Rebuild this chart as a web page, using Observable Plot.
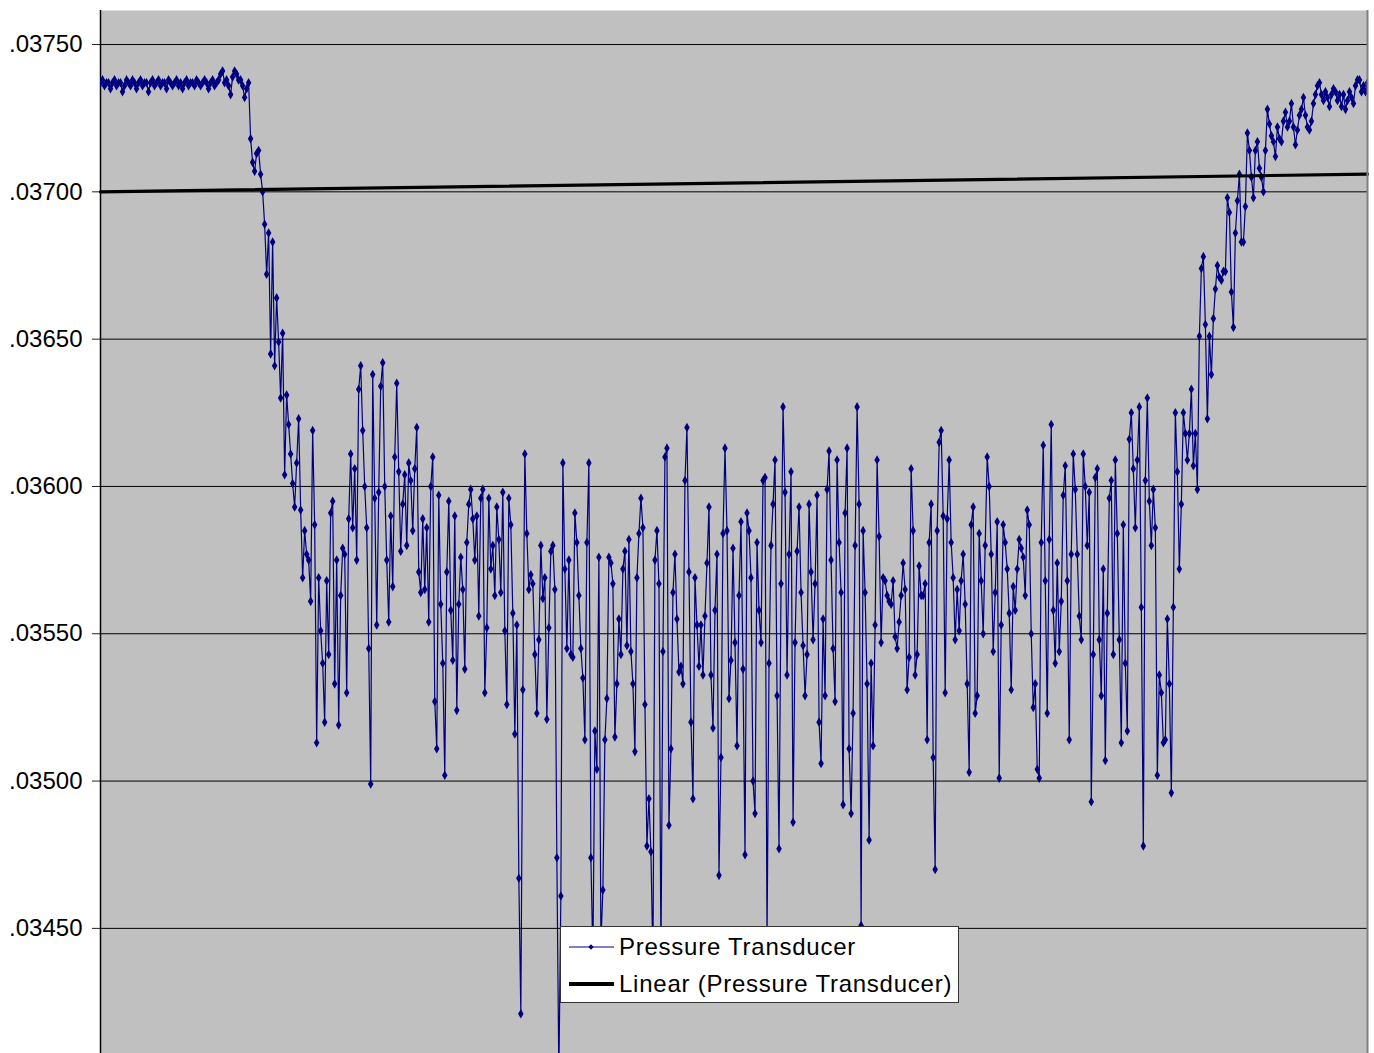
<!DOCTYPE html>
<html>
<head>
<meta charset="utf-8">
<script src="https://cdn.jsdelivr.net/npm/d3@7"></script>
<script src="https://cdn.jsdelivr.net/npm/@observablehq/plot@0.6"></script>
<style>
  html, body { margin: 0; padding: 0; background: #fff; }
  #wrap { position: relative; width: 1374px; height: 1053px; font-family: 'Liberation Sans', Arial, sans-serif; }
  #legend { position: absolute; left: 560px; top: 926px; width: 399px; height: 77px; box-sizing: border-box;
            background: #fff; border: 1px solid #333; }
  #legend .lbl { position: absolute; left: 58px; font-size: 24px; letter-spacing: 0.75px; color: #000; white-space: nowrap; line-height: 30px; }
  #legend svg { position: absolute; left: 8px; }
</style>
</head>
<body>
<div id="wrap"><div id="chart"></div>
  <div id="legend"></div>
</div>
<script>
// Series name and trend label
const seriesName = "Pressure Transducer";
const trendName = "Linear (Pressure Transducer)";

// Pressure readings, in units of 0.00001 (e.g. 3737 -> .03737), one per sample
const readings = [
3737,3738,3736,3737,3737,3735,3737,3738,3736,3737,
3737,3734,3736,3738,3737,3736,3738,3737,3735,3737,
3738,3736,3737,3737,3734,3737,3738,3736,3737,3738,
3736,3737,3737,3735,3738,3737,3736,3737,3738,3736,
3737,3735,3737,3738,3736,3737,3737,3736,3738,3737,
3736,3737,3738,3737,3735,3737,3738,3736,3737,3738,
3740,3741,3737,3738,3736,3733,3739,3741,3740,3738,
3738,3736,3732,3735,3737,3718,3710,3707,3713,3714,
3706,3700,3689,3672,3686,3645,3683,3641,3664,3649,
3630,3652,3604,3631,3621,3611,3601,3593,3608,3623,
3592,3569,3585,3577,3575,3561,3619,3587,3513,3569,
3551,3540,3520,3568,3543,3591,3595,3533,3575,3519,
3563,3579,3577,3530,3589,3611,3586,3606,3575,3633,
3641,3619,3600,3586,3545,3499,3638,3596,3553,3598,
3634,3642,3600,3575,3554,3590,3566,3610,3635,3605,
3578,3594,3604,3580,3608,3602,3585,3606,3620,3571,
3564,3589,3565,3586,3554,3600,3610,3527,3511,3597,
3560,3540,3502,3571,3595,3558,3541,3590,3524,3560,
3576,3565,3538,3581,3594,3599,3589,3575,3590,3556,
3596,3599,3530,3552,3596,3572,3580,3563,3593,3582,
3564,3598,3551,3526,3596,3587,3557,3516,3553,3467,
3421,3531,3611,3584,3565,3570,3567,3543,3523,3548,
3580,3562,3569,3521,3552,3578,3580,3565,3474,3400,
3461,3608,3572,3545,3575,3543,3542,3591,3581,3563,
3545,3535,3514,3581,3608,3474,3440,3517,3504,3576,
3445,3463,3514,3528,3576,3574,3567,3515,3533,3555,
3543,3572,3578,3546,3582,3544,3533,3510,3569,3584,
3596,3586,3526,3478,3494,3476,3438,3575,3585,3567,
3440,3544,3610,3613,3485,3511,3564,3577,3555,3537,
3539,3533,3602,3620,3571,3520,3494,3569,3553,3539,
3553,3536,3556,3574,3593,3536,3518,3558,3577,3468,
3508,3584,3613,3585,3528,3541,3579,3547,3512,3563,
3588,3538,3475,3591,3585,3569,3500,3489,3581,3558,
3547,3602,3603,3445,3540,3580,3594,3609,3529,3477,
3567,3627,3598,3536,3577,3605,3486,3547,3578,3593,
3564,3546,3529,3543,3594,3571,3548,3567,3597,3520,
3506,3555,3529,3599,3612,3575,3545,3527,3609,3581,
3564,3492,3591,3613,3511,3489,3523,3580,3627,3594,
3451,3585,3564,3533,3480,3540,3512,3553,3609,3583,
3547,3569,3568,3563,3561,3560,3568,3549,3545,3554,
3563,3574,3565,3531,3542,3606,3585,3536,3543,3573,
3563,3563,3567,3514,3581,3594,3508,3470,3585,3615,
3619,3590,3530,3589,3609,3581,3569,3548,3565,3551,
3568,3577,3560,3533,3503,3587,3593,3523,3529,3584,
3568,3550,3580,3610,3600,3577,3544,3564,3588,3501,
3553,3587,3581,3572,3557,3531,3566,3558,3572,3582,
3579,3576,3563,3592,3587,3550,3525,3533,3504,3501,
3581,3614,3568,3523,3582,3621,3558,3540,3574,3544,
3561,3597,3607,3568,3514,3577,3611,3599,3577,3556,
3548,3611,3600,3580,3598,3493,3543,3603,3606,3548,
3529,3572,3507,3557,3596,3602,3543,3609,3584,3548,
3513,3587,3540,3517,3616,3625,3606,3586,3609,3627,
3559,3478,3602,3630,3595,3580,3599,3586,3502,3536,
3530,3513,3514,3555,3533,3496,3559,3625,3605,3572,
3594,3625,3618,3609,3618,3633,3607,3618,3599,3651,
3674,3678,3655,3623,3651,3638,3657,3667,3675,3671,
3670,3673,3673,3698,3693,3666,3654,3686,3697,3706,
3683,3683,3695,3720,3714,3705,3698,3714,3717,3708,
3705,3700,3714,3728,3723,3719,3717,3712,3722,3718,
3717,3724,3727,3722,3724,3730,3722,3716,3721,3726,
3728,3732,3726,3722,3721,3724,3730,3733,3736,3737,
3733,3731,3734,3732,3729,3733,3735,3734,3731,3733,
3729,3733,3728,3731,3734,3732,3730,3736,3738,3738,
3734,3736,3734,3737
];

// Linear trend line values at first and last sample (same units)
const trendEnds = [3700, 3706];

// Y-axis tick values (same units)
const yTickValues = [3450, 3500, 3550, 3600, 3650, 3700, 3750];

const scaleUnit = 1e5;
const last = readings.length - 1;
const data = readings.map((r, i) => ({i, v: r / scaleUnit}));
const trend = [{i: 0, v: trendEnds[0] / scaleUnit}, {i: last, v: trendEnds[1] / scaleUnit}];
const yTicks = yTickValues.map(t => t / scaleUnit);
const fmt = d => d3.format(".5f")(d).replace(/^0/, "");

const chart = Plot.plot({
  width: 1374,
  height: 1053,
  marginLeft: 100,
  marginRight: 7,
  marginTop: 10,
  marginBottom: 0,
  style: {fontFamily: "'Liberation Sans', Arial, sans-serif", color: "#000", background: "transparent"},
  x: {domain: [0, last], axis: null, label: null},
  y: {domain: [0.0340753, 0.0376155], axis: null, label: null},
  marks: [
    Plot.frame({fill: "#c0c0c0", stroke: null}),
    Plot.gridY(yTicks, {stroke: "#000", strokeOpacity: 1, strokeWidth: 1}),
    Plot.axisY(yTicks, {tickSize: 8, tickPadding: 10, tickFormat: fmt, fontSize: 24, stroke: "#222", label: null}),
    Plot.ruleX([0], {stroke: "#000", strokeWidth: 1.5}),
    Plot.line(data, {x: "i", y: "v", stroke: "#000080", strokeWidth: 1.2, clip: true}),
    Plot.dot(data, {x: "i", y: "v", r: 2.9, symbol: "diamond", fill: "#000080", stroke: null, clip: true}),
    Plot.line(trend, {x: "i", y: "v", stroke: "#000", strokeWidth: 3.2}),
    Plot.ruleX([last], {stroke: "#808080", strokeWidth: 2})
  ]
});
document.getElementById("chart").appendChild(chart);

// Legend overlaid on the plot
const legend = d3.select("#legend");
const items = [
  {name: seriesName, kind: "series", top: 5},
  {name: trendName, kind: "trend", top: 42}
];
items.forEach(it => {
  const svg = legend.append("svg").attr("width", 46).attr("height", 30).style("top", it.top + "px");
  if (it.kind === "series") {
    svg.append("line").attr("x1", 0).attr("x2", 45).attr("y1", 15).attr("y2", 15).attr("stroke", "#000080").attr("stroke-width", 1);
    svg.append("path").attr("d", "M22,12.3L24.7,15L22,17.7L19.3,15Z").attr("fill", "#000080");
  } else {
    svg.append("line").attr("x1", 0).attr("x2", 45).attr("y1", 15).attr("y2", 15).attr("stroke", "#000").attr("stroke-width", 4);
  }
  legend.append("div").attr("class", "lbl").style("top", it.top + "px").text(it.name);
});
</script>
</body>
</html>
